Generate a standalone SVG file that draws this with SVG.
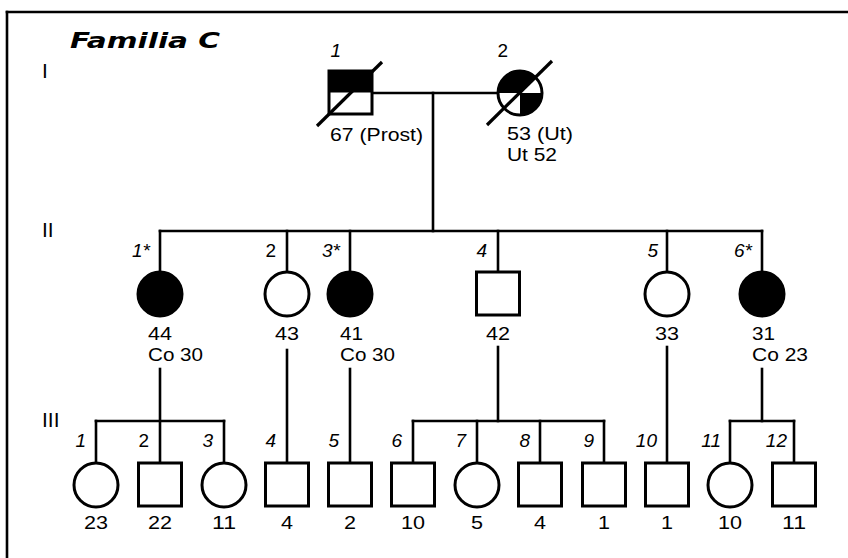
<svg xmlns="http://www.w3.org/2000/svg" width="848" height="558" viewBox="0 0 848 558">
<style>
.ln{stroke:#000;stroke-width:2.6;fill:none;stroke-linecap:square}
.sh{stroke:#000;stroke-width:3;fill:#fff}
.sh.f{fill:#000}
.af{fill:#000}
.id{font-family:"Liberation Sans",Arial,sans-serif;font-size:19px;font-style:italic;fill:#000;text-anchor:end}
.up{font-style:normal}
.age{font-family:"Liberation Sans",Arial,sans-serif;font-size:18.5px;fill:#000}
.c{text-anchor:middle}
.gen{font-family:"Liberation Sans",Arial,sans-serif;font-size:21px;fill:#000}
.title{font-family:"DejaVu Sans",Verdana,sans-serif;font-size:22px;font-weight:bold;font-style:italic;fill:#000}
.slash{stroke:#000;stroke-width:3.2;stroke-linecap:butt}
</style>
<rect width="848" height="558" fill="#fff"/>
<g id="frame">
<line class="ln" x1="7" y1="12" x2="848" y2="12" stroke-linecap="butt"/>
<line class="ln" x1="7" y1="12" x2="7" y2="558" stroke-linecap="butt"/>
</g>
<text class="title" x="70" y="48" textLength="150" lengthAdjust="spacingAndGlyphs">Familia C</text>
<text class="gen" x="42" y="78">I</text>
<text class="gen" x="42" y="237">II</text>
<text class="gen" x="42" y="427">III</text>

<g id="connectors">
<line class="ln" x1="372" y1="93" x2="498" y2="93"/>
<line class="ln" x1="433" y1="93" x2="433" y2="231"/>
<line class="ln" x1="160" y1="231" x2="762" y2="231"/>
<line class="ln" x1="160" y1="231" x2="160" y2="271"/>
<line class="ln" x1="287" y1="231" x2="287" y2="271"/>
<line class="ln" x1="350" y1="231" x2="350" y2="271"/>
<line class="ln" x1="498" y1="231" x2="498" y2="272"/>
<line class="ln" x1="667" y1="231" x2="667" y2="271"/>
<line class="ln" x1="762" y1="231" x2="762" y2="271"/>
<line class="ln" x1="160" y1="369" x2="160" y2="463"/>
<line class="ln" x1="287" y1="350" x2="287" y2="463"/>
<line class="ln" x1="350" y1="369" x2="350" y2="463"/>
<line class="ln" x1="498" y1="347" x2="498" y2="421"/>
<line class="ln" x1="667" y1="347" x2="667" y2="463"/>
<line class="ln" x1="762" y1="369" x2="762" y2="421"/>
<line class="ln" x1="96" y1="421" x2="224" y2="421"/>
<line class="ln" x1="96" y1="421" x2="96" y2="463"/>
<line class="ln" x1="224" y1="421" x2="224" y2="463"/>
<line class="ln" x1="413" y1="421" x2="604" y2="421"/>
<line class="ln" x1="413" y1="421" x2="413" y2="463"/>
<line class="ln" x1="477" y1="421" x2="477" y2="463"/>
<line class="ln" x1="540" y1="421" x2="540" y2="463"/>
<line class="ln" x1="604" y1="421" x2="604" y2="463"/>
<line class="ln" x1="730" y1="421" x2="794" y2="421"/>
<line class="ln" x1="730" y1="421" x2="730" y2="463"/>
<line class="ln" x1="794" y1="421" x2="794" y2="463"/>
</g>

<g id="I-1">
<rect class="sh" x="329" y="71" width="43" height="43"/>
<rect class="af" x="329" y="71" width="43" height="21.5"/>
<line class="slash" x1="317" y1="126" x2="382" y2="62"/>
<text class="id" x="341" y="57">1</text>
<text class="age" x="330" y="141" textLength="93" lengthAdjust="spacingAndGlyphs">67 (Prost)</text>
</g>
<g id="I-2">
<circle class="sh" cx="520" cy="93" r="22"/>
<path class="af" d="M520,93 L498,93 A22,22 0 0 1 535.56,77.44 Z"/>
<path class="af" d="M520,93 L542,93 A22,22 0 0 1 520,115 Z"/>
<line class="slash" x1="487" y1="125" x2="552" y2="61"/>
<text class="id up" x="508" y="57">2</text>
<text class="age" x="507" y="139.5" textLength="66" lengthAdjust="spacingAndGlyphs">53 (Ut)</text>
<text class="age" x="507" y="160.5" textLength="50" lengthAdjust="spacingAndGlyphs">Ut 52</text>
</g>

<g id="II-1">
<circle class="sh f" cx="160" cy="294" r="22"/>
<text class="id" x="150" y="257">1*</text>
<text class="age" x="148" y="339.5" textLength="24" lengthAdjust="spacingAndGlyphs">44</text>
<text class="age" x="148" y="360.5" textLength="55" lengthAdjust="spacingAndGlyphs">Co 30</text>
</g>
<g id="II-2">
<circle class="sh" cx="287" cy="294" r="22"/>
<text class="id up" x="276" y="257">2</text>
<text class="age c" x="287" y="339.5" textLength="24" lengthAdjust="spacingAndGlyphs">43</text>
</g>
<g id="II-3">
<circle class="sh f" cx="350" cy="294" r="22"/>
<text class="id" x="340" y="257">3*</text>
<text class="age" x="340" y="339.5" textLength="23" lengthAdjust="spacingAndGlyphs">41</text>
<text class="age" x="340" y="360.5" textLength="55" lengthAdjust="spacingAndGlyphs">Co 30</text>
</g>
<g id="II-4">
<rect class="sh" x="476.5" y="272" width="43" height="43"/>
<text class="id" x="487" y="257">4</text>
<text class="age c" x="498" y="339.5" textLength="24" lengthAdjust="spacingAndGlyphs">42</text>
</g>
<g id="II-5">
<circle class="sh" cx="667" cy="294" r="22"/>
<text class="id" x="658" y="257">5</text>
<text class="age c" x="667" y="339.5" textLength="24" lengthAdjust="spacingAndGlyphs">33</text>
</g>
<g id="II-6">
<circle class="sh f" cx="762" cy="294" r="22"/>
<text class="id" x="752" y="257">6*</text>
<text class="age" x="752" y="339.5" textLength="23" lengthAdjust="spacingAndGlyphs">31</text>
<text class="age" x="752" y="360.5" textLength="56" lengthAdjust="spacingAndGlyphs">Co 23</text>
</g>

<g id="III-1">
<circle class="sh" cx="96" cy="485" r="22"/>
<text class="id" x="86" y="447">1</text>
<text class="age c" x="96" y="529" textLength="24" lengthAdjust="spacingAndGlyphs">23</text>
</g>
<g id="III-2">
<rect class="sh" x="138.5" y="463" width="43" height="43"/>
<text class="id up" x="149" y="447">2</text>
<text class="age c" x="160" y="529" textLength="24" lengthAdjust="spacingAndGlyphs">22</text>
</g>
<g id="III-3">
<circle class="sh" cx="224" cy="485" r="22"/>
<text class="id" x="213" y="447">3</text>
<text class="age c" x="224" y="529" textLength="24" lengthAdjust="spacingAndGlyphs">11</text>
</g>
<g id="III-4">
<rect class="sh" x="265.5" y="463" width="43" height="43"/>
<text class="id" x="276" y="447">4</text>
<text class="age c" x="287" y="529" textLength="12" lengthAdjust="spacingAndGlyphs">4</text>
</g>
<g id="III-5">
<rect class="sh" x="328.5" y="463" width="43" height="43"/>
<text class="id" x="339" y="447">5</text>
<text class="age c" x="350" y="529" textLength="12" lengthAdjust="spacingAndGlyphs">2</text>
</g>
<g id="III-6">
<rect class="sh" x="391.5" y="463" width="43" height="43"/>
<text class="id" x="402" y="447">6</text>
<text class="age c" x="413" y="529" textLength="24" lengthAdjust="spacingAndGlyphs">10</text>
</g>
<g id="III-7">
<circle class="sh" cx="477" cy="485" r="22"/>
<text class="id" x="466" y="447">7</text>
<text class="age c" x="477" y="529" textLength="12" lengthAdjust="spacingAndGlyphs">5</text>
</g>
<g id="III-8">
<rect class="sh" x="518.5" y="463" width="43" height="43"/>
<text class="id" x="530" y="447">8</text>
<text class="age c" x="540" y="529" textLength="12" lengthAdjust="spacingAndGlyphs">4</text>
</g>
<g id="III-9">
<rect class="sh" x="582.5" y="463" width="43" height="43"/>
<text class="id" x="594" y="447">9</text>
<text class="age c" x="604" y="529" textLength="12" lengthAdjust="spacingAndGlyphs">1</text>
</g>
<g id="III-10">
<rect class="sh" x="645.5" y="463" width="43" height="43"/>
<text class="id" x="657" y="447">10</text>
<text class="age c" x="667" y="529" textLength="12" lengthAdjust="spacingAndGlyphs">1</text>
</g>
<g id="III-11">
<circle class="sh" cx="730" cy="485" r="22"/>
<text class="id" x="721" y="447">11</text>
<text class="age c" x="730" y="529" textLength="24" lengthAdjust="spacingAndGlyphs">10</text>
</g>
<g id="III-12">
<rect class="sh" x="772.5" y="463" width="43" height="43"/>
<text class="id" x="787" y="447">12</text>
<text class="age c" x="794" y="529" textLength="24" lengthAdjust="spacingAndGlyphs">11</text>
</g>
</svg>
